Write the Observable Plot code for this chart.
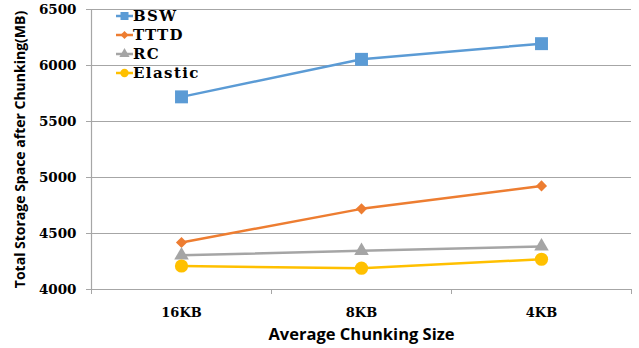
<!DOCTYPE html>
<html>
<head>
<meta charset="utf-8">
<script src="https://cdn.jsdelivr.net/npm/d3@7"></script>
<script src="https://cdn.jsdelivr.net/npm/@observablehq/plot@0.6"></script>
<style>
  body { margin: 0; background: #fff; }
  #chart { position: relative; width: 639px; height: 348px; }
  #legend { position: absolute; left: 116px; top: 6px; }
  #legend .row { display: flex; align-items: center; height: 19px; font: bold 15px "DejaVu Serif", serif; letter-spacing: 1.4px; color: #000; }
  #legend svg { margin-right: 0px; }
</style>
</head>
<body>
<div id="chart"></div>
<script>
// Average chunk size on the x axis, total storage (MB) on the y axis
const categories = ["16KB", "8KB", "4KB"];
const seriesNames = ["BSW", "TTTD", "RC", "Elastic"];
const bsw     = [5720, 6055, 6195];
const tttd    = [4420, 4720, 4925];
const rc      = [4305, 4345, 4385];
const elastic = [4210, 4190, 4270];
const yTicks = [4000, 4500, 5000, 5500, 6000, 6500];

const colors  = ["#5B9BD5", "#ED7D31", "#A5A5A5", "#FFC000"];
const symbols = ["square", "diamond2", "triangle", "circle"];
const radii   = [7.3, 5, 5.4, 6.6];

const values = [bsw, tttd, rc, elastic];
const rows = seriesNames.flatMap((s, si) =>
  values[si].map((v, i) => ({series: s, i, value: v})));

const grid = "#a6a6a6";

const chart = Plot.plot({
  width: 639,
  height: 348,
  marginLeft: 91,
  marginRight: 8,
  marginTop: 9,
  marginBottom: 59,
  style: {fontFamily: "DejaVu Serif", fontWeight: "bold", fontSize: "13px", color: "#000", background: "#fff"},
  x: {type: "linear", domain: [-0.5, 2.5], axis: null},
  y: {domain: [4000, 6500], axis: null},
  color: {domain: seriesNames, range: colors},
  symbol: {domain: seriesNames, range: symbols},
  marks: [
    Plot.ruleY(yTicks.slice(1), {stroke: grid, strokeWidth: 1}),
    Plot.ruleY([4000], {stroke: grid, strokeWidth: 1.2}),
    Plot.ruleX([-0.5], {stroke: grid, strokeWidth: 1.2}),
    Plot.axisY({ticks: yTicks, tickSize: 5, tickPadding: 10, stroke: grid, label: null,
                tickFormat: d => String(d),
                fontFamily: "DejaVu Serif", fontWeight: "bold", fontSize: 13.5}),
    Plot.axisX({ticks: [-0.5, 0.5, 1.5, 2.5], tickSize: 5, tickFormat: () => "", stroke: grid, label: null}),
    Plot.axisX({ticks: [0, 1, 2], tickSize: 0, tickPadding: 18, tickFormat: i => categories[i], label: null,
                fontFamily: "DejaVu Serif", fontWeight: "bold", fontSize: 13}),
    Plot.text(["Total Storage Space after Chunking(MB)"], {
      frameAnchor: "left", textAnchor: "middle", rotate: -90, dx: -71,
      fontFamily: "Open Sans", fontWeight: "bold", fontSize: 14
    }),
    Plot.text(["Average Chunking Size"], {
      frameAnchor: "bottom", dy: 50,
      fontFamily: "Open Sans", fontWeight: "bold", fontSize: 16.5
    }),
    Plot.line(rows, {x: "i", y: "value", stroke: "series", strokeWidth: 2.5, z: "series"}),
    ...seriesNames.map((s, si) =>
      Plot.dot(rows.filter(d => d.series === s), {
        x: "i", y: "value", fill: "series", symbol: "series", r: radii[si], stroke: "none"
      }))
  ]
});

const container = document.getElementById("chart");
container.appendChild(chart);

// Legend in the upper left corner of the plot area
const legend = document.createElement("div");
legend.id = "legend";
seriesNames.forEach((s, si) => {
  const row = document.createElement("div");
  row.className = "row";
  const sw = d3.create("svg").attr("width", 17).attr("height", 12);
  sw.append("line").attr("x1", 0).attr("x2", 17).attr("y1", 6).attr("y2", 6)
    .attr("stroke", colors[si]).attr("stroke-width", 2.5);
  const sym = {square: d3.symbolSquare, diamond2: d3.symbolDiamond2, triangle: d3.symbolTriangle, circle: d3.symbolCircle}[symbols[si]];
  sw.append("path").attr("transform", "translate(8.5,6)")
    .attr("d", d3.symbol(sym, [64, 40, 45, 55][si])()).attr("fill", colors[si]);
  row.appendChild(sw.node());
  const label = document.createElement("span");
  label.textContent = s;
  row.appendChild(label);
  legend.appendChild(row);
});
container.appendChild(legend);
</script>
</body>
</html>
